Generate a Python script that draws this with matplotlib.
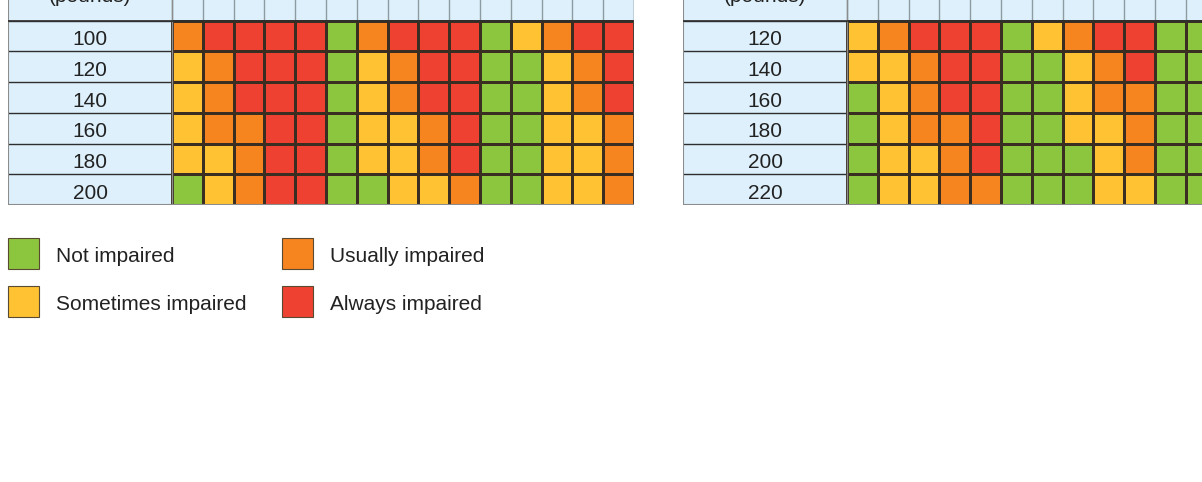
import numpy as np
import matplotlib
matplotlib.use("Agg")
import matplotlib.pyplot as plt
from matplotlib.colors import ListedColormap
from matplotlib.patches import Rectangle

plt.rcParams['font.family'] = ['Liberation Sans', 'DejaVu Sans']

# impairment levels: 0 not, 1 sometimes, 2 usually, 3 always
levels = ['Not impaired', 'Sometimes impaired', 'Usually impaired', 'Always impaired']
level_colors = ['#8cc63e', '#fec232', '#f6841f', '#ef4131']

# left table (body weight rows, 15 drink columns)
left_weights = ['100', '120', '140', '160', '180', '200']
left_grid = [
    [2, 3, 3, 3, 3, 0, 2, 3, 3, 3, 0, 1, 2, 3, 3],
    [1, 2, 3, 3, 3, 0, 1, 2, 3, 3, 0, 0, 1, 2, 3],
    [1, 2, 3, 3, 3, 0, 1, 2, 3, 3, 0, 0, 1, 2, 3],
    [1, 2, 2, 3, 3, 0, 1, 1, 2, 3, 0, 0, 1, 1, 2],
    [1, 1, 2, 3, 3, 0, 1, 1, 2, 3, 0, 0, 1, 1, 2],
    [0, 1, 2, 3, 3, 0, 0, 1, 1, 2, 0, 0, 1, 1, 2],
]

# right table (cut off at the right edge, only visible columns)
right_weights = ['120', '140', '160', '180', '200', '220']
right_grid = [
    [1, 2, 3, 3, 3, 0, 1, 2, 3, 3, 0, 0],
    [1, 1, 2, 3, 3, 0, 0, 1, 2, 3, 0, 0],
    [0, 1, 2, 3, 3, 0, 0, 1, 2, 2, 0, 0],
    [0, 1, 2, 2, 3, 0, 0, 1, 1, 2, 0, 0],
    [0, 1, 1, 2, 3, 0, 0, 0, 1, 2, 0, 0],
    [0, 1, 1, 2, 2, 0, 0, 0, 1, 1, 0, 0],
]

W, H = 1202, 482
fig = plt.figure(figsize=(W / 100, H / 100), dpi=100)

cell = 30.8          # px per cell
label_w = 164 / cell # label column width in cell units
head_h = 20.5 / 30.75

cmap = ListedColormap(level_colors)
label_bg = '#ddf0fb'
text_col = '#222222'


def draw_table(left_px, weights, grid, ncols_total):
    grid = np.array(grid)
    nrows, ncols = grid.shape
    width_px = (label_w + ncols_total) * cell
    ax = fig.add_axes([left_px / W, 1 - 205 / H, width_px / W, 205 / H])
    ax.set_xlim(-label_w, ncols_total)
    ax.set_ylim(nrows, -head_h)
    ax.axis('off')

    # header band
    ax.add_patch(Rectangle((-label_w, -3), label_w + ncols, 3, facecolor=label_bg,
                           edgecolor='none', zorder=1))
    for c in range(ncols + 1):
        ax.plot([c, c], [-3, 0], color='#8f9ba3', lw=1.0, zorder=2)
    ax.text(-label_w / 2, -0.6, '(pounds)', ha='center', va='baseline',
            fontsize=15, color=text_col, zorder=3)

    # label column
    ax.add_patch(Rectangle((-label_w, 0), label_w, nrows, facecolor=label_bg,
                           edgecolor='none', zorder=1))
    for i, w in enumerate(weights):
        ax.text(-label_w / 2, i + 0.8, w, ha='center', va='baseline',
                fontsize=15, color=text_col, zorder=3)
    for r in range(nrows + 1):
        ax.plot([-label_w, 0], [r, r], color='#2e2e2e', lw=1.0, zorder=2)

    # colored cells
    ax.pcolormesh(np.arange(ncols + 1), np.arange(nrows + 1), grid, cmap=cmap,
                  vmin=-0.5, vmax=3.5, edgecolors='#3a2e22', linewidth=0.9, zorder=2)

    # outer border (grey)
    ax.plot([-label_w, -label_w], [-3, nrows], color='#8c8c8c', lw=1.5, zorder=4)
    ax.plot([-label_w, ncols], [nrows, nrows], color='#8c8c8c', lw=1.5, zorder=4)
    ax.plot([0, 0], [-3, nrows], color='#8c8c8c', lw=1.0, zorder=4)
    ax.plot([-label_w, ncols], [0, 0], color='#2e2e2e', lw=1.2, zorder=4)
    if ncols == ncols_total:
        ax.plot([ncols, ncols], [-3, nrows], color='#8c8c8c', lw=1.0, zorder=4)
    return ax


draw_table(8, left_weights, left_grid, 15)
draw_table(683, right_weights, right_grid, 15)

# legend in pixel coordinates
lax = fig.add_axes([0, 0, 1, 1])
lax.set_xlim(0, W)
lax.set_ylim(H, 0)
lax.axis('off')
legend_pos = [(8, 238), (8, 286), (282, 238), (282, 286)]
for (x, y), name, col in zip(legend_pos, levels, level_colors):
    lax.add_patch(Rectangle((x, y), 31, 31, facecolor=col, edgecolor='#5a4a32', lw=0.8))
    lax.text(x + 48, y + 24, name, ha='left', va='baseline', fontsize=15, color=text_col)

fig.savefig('out.png', dpi=100, facecolor='white')
